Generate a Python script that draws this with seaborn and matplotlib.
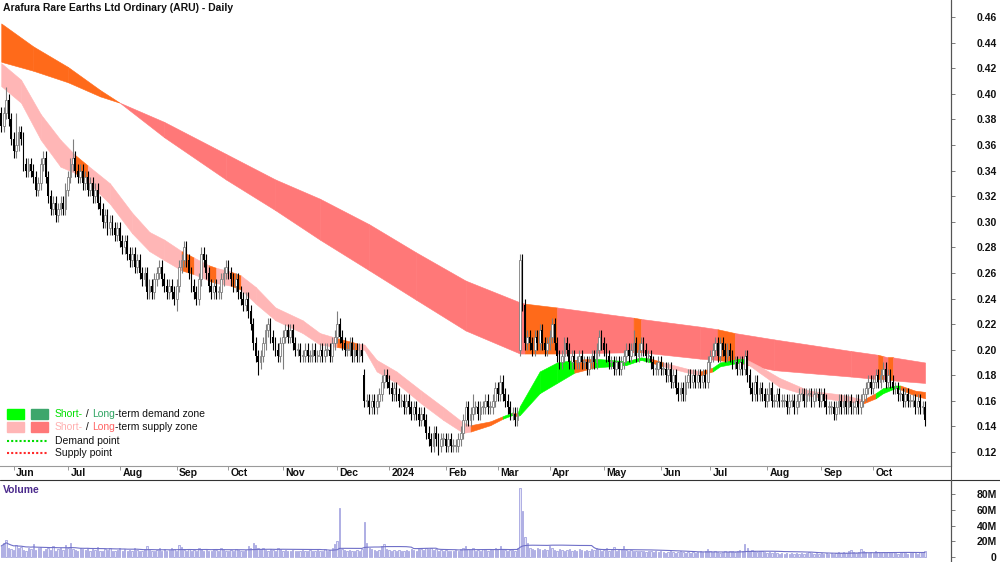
import numpy as np
import pandas as pd
import matplotlib
matplotlib.use("Agg")
import matplotlib.pyplot as plt
from matplotlib.lines import Line2D
from matplotlib.patches import Rectangle
import seaborn as sns

# %% data
title = "Arafura Rare Earths Ltd Ordinary (ARU) - Daily"
first_day = "2023-05-25"

# daily closes, cents
close_cents = [
    # i0-39
    37.5, 38.5, 39.5, 38.0, 36.5, 35.5, 36.0, 37.0, 36.5, 34.5,
    34.0, 34.5, 34.0, 33.5, 32.5, 33.0, 34.5, 35.0, 33.5, 32.0,
    31.0, 31.5, 30.5, 31.0, 31.5, 31.0, 32.5, 33.5, 34.5, 35.0,
    34.0, 33.5, 34.0, 33.0, 33.5, 32.5, 33.0, 32.0, 32.5, 31.5,
    # i40-79
    31.0, 30.0, 30.5, 29.5, 30.0, 29.5, 29.0, 29.5, 28.5, 28.0,
    28.5, 27.5, 27.0, 27.5, 26.5, 27.0, 26.0, 25.5, 26.0, 24.5,
    25.0, 24.5, 25.5, 26.0, 26.5, 25.5, 25.0, 24.5, 25.0, 24.5,
    24.0, 25.0, 26.5, 27.0, 28.0, 27.0, 26.0, 25.0, 24.5, 24.0,
    # i80-119
    25.5, 27.5, 27.0, 26.0, 25.0, 24.5, 25.0, 24.5, 24.5, 25.5,
    26.0, 26.5, 26.0, 25.5, 25.0, 25.5, 24.5, 24.0, 23.5, 24.0,
    23.0, 22.0, 20.5, 19.5, 19.0, 19.5, 20.5, 21.5, 22.0, 21.0,
    20.5, 20.0, 19.5, 20.5, 21.0, 21.5, 21.0, 21.5, 20.5, 20.0,
    # i120-159
    20.0, 19.5, 19.5, 20.0, 19.5, 19.5, 20.0, 19.5, 19.5, 20.0,
    19.5, 20.0, 20.0, 19.5, 20.5, 21.0, 22.0, 21.0, 20.5, 20.0,
    20.0, 20.5, 19.5, 20.0, 19.5, 20.0, 19.5, 16.0, 16.0, 15.5,
    16.0, 15.5, 16.0, 16.5, 17.5, 18.0, 17.5, 17.0, 16.5, 17.0,
    # i160-199
    16.5, 16.0, 16.0, 15.5, 16.0, 15.5, 15.0, 15.5, 15.0, 14.5,
    15.0, 14.5, 13.5, 13.0, 12.5, 13.5, 13.0, 12.5, 13.0, 13.0,
    12.5, 13.0, 12.5, 12.5, 12.5, 13.0, 13.5, 14.5, 15.5, 14.5,
    15.0, 15.5, 15.5, 15.0, 15.5, 15.5, 16.0, 15.5, 15.5, 16.0,
    # i200-239
    17.0, 16.5, 17.5, 16.5, 16.0, 15.5, 15.0, 15.0, 14.5, 15.0,
    27.0, 23.5, 20.5, 21.0, 20.5, 20.0, 21.0, 20.5, 21.5, 20.5,
    20.0, 20.5, 21.0, 22.0, 20.5, 19.5, 19.0, 19.5, 20.5, 20.0,
    19.0, 19.5, 19.0, 19.0, 19.5, 19.0, 19.0, 18.5, 19.0, 19.5,
    # i240-279
    19.0, 20.0, 21.0, 20.5, 20.0, 19.5, 19.0, 19.0, 18.5, 19.0,
    18.5, 19.0, 19.5, 20.0, 19.5, 20.0, 20.5, 19.5, 20.0, 20.5,
    20.0, 19.5, 19.5, 19.0, 18.5, 18.5, 19.0, 18.5, 18.5, 18.0,
    18.5, 17.5, 18.0, 17.0, 16.5, 17.0, 16.5, 17.5, 18.0, 17.5,
    # i280-319
    18.0, 17.5, 18.0, 17.5, 18.0, 17.5, 19.0, 19.5, 20.0, 20.5,
    19.5, 20.5, 20.0, 19.5, 20.0, 19.5, 19.0, 19.0, 18.5, 19.0,
    18.5, 19.5, 18.0, 17.0, 16.5, 17.5, 16.5, 17.0, 16.5, 16.0,
    16.5, 17.0, 16.0, 16.0, 16.5, 16.0, 16.0, 16.0, 15.5, 16.0,
    # i320-359
    16.0, 15.5, 16.0, 16.5, 16.5, 16.0, 16.5, 16.5, 16.0, 16.5,
    16.5, 16.0, 16.5, 16.0, 15.5, 15.5, 15.5, 15.0, 15.5, 16.0,
    15.5, 16.0, 15.5, 16.0, 15.5, 15.5, 16.0, 15.5, 16.0, 16.5,
    17.0, 17.5, 17.0, 17.5, 18.0, 17.5, 18.0, 18.5, 17.5, 18.0,
    # i360-374
    17.5, 17.0, 17.0, 16.5, 16.5, 16.0, 16.5, 16.0, 16.0, 16.0,
    15.5, 16.0, 15.5, 15.5, 14.5,
]

# opens that gap away from the previous close, cents
gap_open_cents = {0: 38.5, 147: 18.0, 210: 20.0}
# notable wicks, cents
high_cents = {2: 40.5, 6: 38.5, 29: 36.5, 75: 28.5, 81: 28.0, 92: 27.0, 136: 23.0,
              155: 18.5, 191: 16.5, 202: 18.0, 210: 27.5, 223: 22.5, 242: 21.5,
              256: 21.5, 290: 21.0, 301: 20.0, 357: 19.0}
low_cents = {59: 24.0, 71: 23.0, 104: 18.0, 114: 18.5, 177: 11.8, 210: 19.5, 276: 16.0}

# daily volume, millions
volume_m = [
    14, 18, 22, 12, 10, 9, 15, 11, 13, 9, 8, 12, 10, 16, 9, 11, 13, 8, 10, 12,
    9, 14, 8, 10, 11, 9, 15, 12, 18, 10, 9, 8, 12, 10, 9, 11, 8, 10, 9, 13,
    8, 7, 10, 9, 12, 8, 7, 9, 11, 8, 10, 7, 9, 8, 12, 9, 7, 8, 10, 14,
    9, 8, 7, 9, 11, 8, 10, 7, 9, 12, 10, 8, 15, 13, 9, 8, 10, 7, 9, 8,
    12, 10, 8, 9, 7, 8, 10, 9, 8, 11, 9, 8, 7, 9, 8, 10, 9, 8, 7, 9,
    14, 12, 18, 15, 12, 10, 11, 9, 8, 10, 9, 8, 11, 10, 8, 9, 7, 8, 9, 8,
    7, 8, 9, 7, 8, 9, 7, 8, 9, 8, 7, 10, 8, 9, 12, 16, 20, 62, 10, 9,
    8, 9, 7, 8, 9, 8, 10, 44, 18, 12, 10, 9, 8, 9, 14, 16, 10, 9, 8, 9,
    8, 9, 7, 8, 9, 8, 10, 9, 8, 12, 10, 9, 11, 10, 12, 9, 10, 8, 9, 8,
    9, 8, 7, 8, 9, 8, 10, 12, 14, 10, 9, 11, 8, 9, 8, 10, 9, 8, 10, 9,
    12, 10, 14, 10, 9, 8, 9, 10, 8, 12, 88, 58, 25, 18, 12, 10, 9, 11, 10, 9,
    10, 9, 14, 12, 9, 8, 10, 9, 8, 9, 10, 8, 9, 8, 10, 9, 8, 9, 8, 10,
    9, 12, 10, 8, 9, 12, 8, 9, 13, 8, 9, 10, 14, 9, 8, 9, 7, 8, 7, 8,
    7, 6, 7, 8, 6, 7, 6, 7, 6, 5, 6, 7, 6, 5, 6, 7, 6, 5, 6, 5,
    6, 5, 6, 7, 6, 8, 10, 7, 6, 7, 6, 5, 6, 7, 6, 8, 7, 6, 8, 9,
    7, 16, 11, 8, 9, 7, 6, 8, 7, 6, 5, 6, 5, 6, 5, 4, 5, 4, 5, 4,
    5, 4, 5, 4, 5, 4, 5, 6, 5, 4, 5, 4, 5, 4, 5, 4, 5, 4, 5, 6,
    5, 6, 5, 7, 9, 6, 5, 6, 10, 7, 6, 5, 6, 5, 7, 6, 5, 6, 5, 6,
    5, 6, 5, 4, 5, 6, 5, 4, 5, 6, 5, 4, 6, 5, 8,
]

# long-term zone edges (bar index, $) and zone type of each stretch
lt_idx = [0, 13, 27, 40, 48, 66, 91, 111, 129, 149, 168, 188, 210, 212, 225, 256, 259,
          283, 290, 297, 313, 344, 355, 357, 359, 361, 374]
lt_top = [.455, .437, .421, .403, .393, .378, .353, .333, .318, .298, .276, .254, .237,
          .236, .233, .225, .224, .218, .216, .213, .208, .199, .196, .195, .194, .194, .190]
lt_bot = [.425, .418, .409, .398, .393, .366, .333, .309, .286, .262, .239, .215, .197,
          .197, .197, .198, .198, .193, .192, .190, .184, .179, .177, .177, .176, .176, .174]
lt_zone = list("oooorrrrrr" "rrrororror" "rrororr")

# short-term zone edges
st_idx = [0, 8, 16, 24, 30, 35, 44, 53, 60, 66, 73, 78, 84, 87, 93, 97, 103, 111, 122, 129,
          136, 144, 147, 152, 160, 170, 179, 187, 190, 198, 203, 207, 209, 210, 218, 225,
          232, 240, 253, 259, 263, 268, 278, 283, 288, 291, 299, 302, 307, 315, 327, 340,
          349, 354, 357, 362, 364, 370, 374]
st_top = [.424, .411, .384, .364, .352, .344, .330, .307, .292, .286, .277, .272, .266, .264,
          .261, .258, .249, .233, .223, .213, .209, .205, .204, .192, .183, .168, .155, .143,
          .141, .144, .148, .151, .150, .156, .183, .190, .192, .193, .191, .194, .193, .190,
          .185, .183, .186, .190, .193, .192, .187, .178, .168, .165, .161, .166, .170, .172,
          .172, .168, .167]
st_bot = [.406, .393, .364, .343, .338, .331, .314, .291, .277, .270, .262, .259, .254, .252,
          .250, .247, .236, .223, .213, .204, .202, .200, .200, .183, .174, .158, .145, .135,
          .136, .141, .146, .149, .148, .149, .166, .174, .182, .186, .188, .192, .190, .187,
          .182, .180, .183, .187, .190, .189, .182, .171, .164, .160, .158, .162, .166, .170,
          .169, .164, .162]
st_zone = list("ppppoppppp" "opopoppppp" "opppppppoo" "goggggoggg" "oppogggppp" "ppogggoop")

price_ticks = [0.12, 0.14, 0.16, 0.18, 0.20, 0.22, 0.24, 0.26, 0.28, 0.30,
               0.32, 0.34, 0.36, 0.38, 0.40, 0.42, 0.44, 0.46]
volume_ticks = [0, 20, 40, 60, 80]
volume_labels = ["0", "20M", "40M", "60M", "80M"]

# %% prepare
close = np.array(close_cents) / 100
n = len(close)
idx = np.arange(n)
dates = pd.bdate_range(first_day, periods=n)

opn = np.r_[close[0], close[:-1]]
for k, v in gap_open_cents.items():
    opn[k] = v / 100
hi = np.maximum(opn, close) + 0.005
lo = np.minimum(opn, close) - 0.005
for k, v in high_cents.items():
    hi[k] = v / 100
for k, v in low_cents.items():
    lo[k] = v / 100

vol = pd.Series(volume_m[:n], dtype=float)
vol_avg = vol.rolling(30, min_periods=1).mean()

zone_col = {"o": "#FF6A1A", "r": "#FF7878", "p": "#FFB6B6", "g": "#00FF00"}

# %% figure
sns.set_theme(style="white")
plt.rcParams["font.family"] = ["Liberation Sans", "DejaVu Sans"]

W, H = 1000, 562
fig = plt.figure(figsize=(10, 5.62), dpi=100)
ax = fig.add_axes([0, 1 - 466 / H, 951 / W, 466 / H])
axv = fig.add_axes([0, 0, 951 / W, 82 / H])

def draw_zone(a, ix, top, bot, zone):
    for k in range(len(ix) - 1):
        c = zone_col[zone[k]]
        a.fill_between(ix[k:k + 2], bot[k:k + 2], top[k:k + 2],
                       facecolor=c, edgecolor=c, lw=0.4, zorder=1)

draw_zone(ax, lt_idx, lt_top, lt_bot, lt_zone)
draw_zone(ax, st_idx, st_top, st_bot, st_zone)

# candles
up = close >= opn
body_lo = np.minimum(opn, close)
body_h = np.maximum(np.abs(close - opn), 0.0008)
ax.vlines(idx[up], lo[up], hi[up], color="#7E7E7E", lw=0.8, zorder=2)
ax.vlines(idx[~up], lo[~up], hi[~up], color="black", lw=0.8, zorder=2)
ax.bar(idx[up], body_h[up], bottom=body_lo[up], width=0.72,
       facecolor="white", edgecolor="#7E7E7E", lw=0.6, zorder=3)
ax.bar(idx[~up], body_h[~up], bottom=body_lo[~up], width=0.72,
       color="black", lw=0, zorder=3)

ax.set_xlim(-0.5, 384.5)
ax.set_ylim(0.1091, 0.4733)

# month strip
m_start = [i for i in range(1, n) if dates[i].month != dates[i - 1].month]
ax.set_xticks(m_start)
ax.tick_params(axis="x", direction="out", length=3, width=0.6, color="#888888",
               labelbottom=False, bottom=True)
for i in m_start:
    d = dates[i]
    lab = str(d.year) if d.month == 1 else d.strftime("%b")
    ax.text(i + 1.0, -0.0155, lab, transform=ax.get_xaxis_transform(),
            ha="left", va="center", fontsize=7.5, fontweight="bold", color="#111111")

# right price axis
ax.yaxis.tick_right()
ax.set_yticks(price_ticks, labels=[f"{v:.2f}" for v in price_ticks],
              ha="right", fontweight="bold")
ax.tick_params(axis="y", direction="out", length=3, width=0.6, color="#666666",
               pad=30, labelsize=7.5, labelcolor="#111111", right=True, left=False)
for s in ["left", "top"]:
    ax.spines[s].set_visible(False)
ax.spines["bottom"].set_color("#9A9A9A")
ax.spines["bottom"].set_linewidth(0.8)
ax.spines["right"].set_color("#555555")
ax.spines["right"].set_linewidth(0.8)
ax.set_facecolor("white")

# volume panel
axv.bar(idx, vol.values, width=0.55, facecolor="#E6E6F8", edgecolor="#9494DA",
        lw=0.5, zorder=2)
sns.lineplot(x=idx, y=vol_avg.values, ax=axv, color="#7070C8", lw=0.8, zorder=3)
axv.set_xlim(-0.5, 384.5)
axv.set_ylim(-6.4, 98)
axv.yaxis.tick_right()
axv.set_yticks(volume_ticks, labels=volume_labels, ha="right", fontweight="bold")
axv.tick_params(axis="y", direction="out", length=3, width=0.6, color="#666666",
                pad=30, labelsize=7.5, labelcolor="#111111", right=True, left=False)
axv.set_xticks([])
for s in ["left", "bottom", "top"]:
    axv.spines[s].set_visible(False)
axv.spines["right"].set_color("#555555")
axv.spines["right"].set_linewidth(0.8)
axv.set_xlabel("")
axv.set_ylabel("")

fig.add_artist(Line2D([0, 1], [1 - 480 / H] * 2, color="#333333", lw=0.8))
fig.add_artist(Line2D([951 / W] * 2, [0, 1], color="#555555", lw=0.8))

# titles
fig.text(3 / W, 1 - 8 / H, title, fontsize=7.5, fontweight="bold",
         ha="left", va="center", color="#111111")
fig.text(3 / W, 1 - 490 / H, "Volume", fontsize=7.5, fontweight="bold",
         ha="left", va="center", color="#4B2A8C")

# legend
renderer = fig.canvas.get_renderer()

def chained(x_px, y_px, parts):
    x = x_px / W
    for s, col in parts:
        t = fig.text(x, 1 - y_px / H, s, color=col, fontsize=7.5,
                     ha="left", va="center")
        x = t.get_window_extent(renderer).x1 / W

rows = [(414, "#00FF00", "#3DA66C",
         [("Short-", "#00E000"), (" / ", "#111111"), ("Long", "#2FA462"),
          ("-term demand zone", "#111111")]),
        (427, "#FFB6B6", "#FF7878",
         [("Short-", "#FFB0B0"), (" / ", "#111111"), ("Long", "#FF6464"),
          ("-term supply zone", "#111111")])]
for y, c1, c2, parts in rows:
    fig.add_artist(Rectangle((7 / W, 1 - (y + 5) / H), 17 / W, 10 / H,
                             transform=fig.transFigure, color=c1))
    fig.add_artist(Rectangle((31 / W, 1 - (y + 5) / H), 17 / W, 10 / H,
                             transform=fig.transFigure, color=c2))
    chained(55, y, parts)

for y, c, lab in [(441, "#00DD00", "Demand point"), (453, "#FF2A2A", "Supply point")]:
    fig.add_artist(Line2D([7 / W, 47 / W], [1 - y / H] * 2, color=c, lw=1.5,
                          linestyle=(0, (1, 1))))
    fig.text(55 / W, 1 - y / H, lab, fontsize=7.5, ha="left", va="center",
             color="#111111")

fig.savefig("out.png", dpi=100)
